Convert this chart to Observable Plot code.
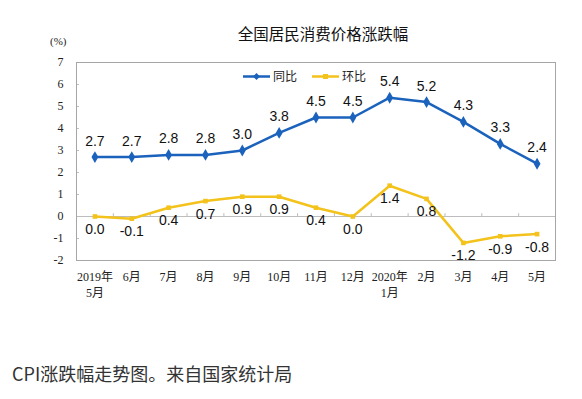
<!DOCTYPE html>
<html><head><meta charset="utf-8">
<script src="https://cdn.jsdelivr.net/npm/d3@7"></script>
<script src="https://cdn.jsdelivr.net/npm/@observablehq/plot@0.6"></script>
<style>
body{margin:0;background:#fff;}
#wrap{position:relative;width:582px;height:399px;overflow:hidden;font-family:"Noto Sans CJK SC","Noto Sans",sans-serif;}
#chart{position:absolute;left:0;top:0;}
.title{position:absolute;left:323px;top:23px;transform:translateX(-50%);font-size:15.5px;line-height:20px;color:#111;white-space:nowrap;}
.unit{position:absolute;left:50px;top:35px;font-family:"Liberation Serif","Noto Sans CJK SC",serif;font-size:11px;color:#222;}
.legend{position:absolute;top:68px;left:243px;font-size:12px;color:#222;display:flex;align-items:center;line-height:16px;}
.legend .item{display:flex;align-items:center;margin-right:15px;}
.legend svg{margin-right:3px;}
.caption{position:absolute;left:12px;top:362px;font-size:18px;line-height:22px;color:#333;white-space:nowrap;}
</style></head>
<body>
<div id="wrap">
  <div id="chart"></div>
  <div class="title">全国居民消费价格涨跌幅</div>
  <div class="unit">(%)</div>
  <div class="legend" id="legend"></div>
  <div class="caption">CPI涨跌幅走势图。来自国家统计局</div>
</div>
<script>
const months = ["2019年\n5月","6月","7月","8月","9月","10月","11月","12月","2020年\n1月","2月","3月","4月","5月"];
const yoy = [2.7,2.7,2.8,2.8,3.0,3.8,4.5,4.5,5.4,5.2,4.3,3.3,2.4];
const mom = [0.0,-0.1,0.4,0.7,0.9,0.9,0.4,0.0,1.4,0.8,-1.2,-0.9,-0.8];
const seriesNames = ["同比","环比"];
const yTicks = [-2,-1,0,1,2,3,4,5,6,7];

const blue = "#1B62BD";
const yellow = "#F3C21B";
const idx = months.map((d,i)=>i);
const bounds = idx.slice(1).map(i=>i-0.5);
const serif = "'Liberation Serif','Noto Sans CJK SC',serif";
const sans = "'Liberation Sans',Arial,sans-serif";

const chart = Plot.plot({
  width: 582, height: 320,
  marginLeft: 76, marginRight: 27, marginTop: 62, marginBottom: 60,
  x: {type:"linear", domain:[-0.5, months.length-0.5], axis:null},
  y: {domain:[-2,7], axis:null},
  marks: [
    Plot.ruleY([0], {stroke:"#bdbdbd", strokeWidth:1}),
    Plot.ruleX(bounds, {x:d=>d, y1:0, y2:0.13, stroke:"#bdbdbd"}),
    Plot.ruleY(yTicks, {y:d=>d, x1:-0.5, x2:-0.42, stroke:"#bdbdbd"}),
    Plot.frame({stroke:"#a6a6a6"}),
    Plot.axisY({ticks:yTicks, tickSize:0, tickPadding:13, tickFormat:d=>String(d), fontFamily:serif, fontSize:12, fill:"#222"}),
    Plot.text(months, {x:(d,i)=>i, text:d=>d, frameAnchor:"bottom", lineAnchor:"top", dy:10, lineHeight:1.28, fontFamily:serif, fontSize:12, fill:"#222"}),
    Plot.line(yoy, {x:(d,i)=>i, y:d=>d, stroke:blue, strokeWidth:2.5}),
    Plot.dot(yoy, {x:(d,i)=>i, y:d=>d, symbol:"diamond", fill:blue, r:3.6}),
    Plot.text(yoy, {x:(d,i)=>i, y:d=>d, text:d=>d.toFixed(1), dy:-16, fontFamily:sans, fontSize:14, fill:"#111"}),
    Plot.line(mom, {x:(d,i)=>i, y:d=>d, stroke:yellow, strokeWidth:2.5}),
    Plot.dot(mom, {x:(d,i)=>i, y:d=>d, symbol:"square", fill:yellow, r:2.6}),
    Plot.text(mom, {x:(d,i)=>i, y:d=>d, text:d=>d.toFixed(1), dy:13, fontFamily:sans, fontSize:14, fill:"#111"})
  ]
});
document.getElementById("chart").appendChild(chart);

const lg = document.getElementById("legend");
[[seriesNames[0], blue, "diamond"],[seriesNames[1], yellow, "square"]].forEach(([name,color,sym])=>{
  const item = document.createElement("div"); item.className="item";
  const marker = sym==="diamond"
    ? `<path d="M13.5 1 L17 4.5 L13.5 8 L10 4.5 Z" fill="${color}"/>`
    : `<rect x="11" y="2" width="5" height="5" fill="${color}"/>`;
  item.innerHTML = `<svg width="27" height="9"><line x1="0" x2="27" y1="4.5" y2="4.5" stroke="${color}" stroke-width="2.5"/>${marker}</svg><span>${name}</span>`;
  lg.appendChild(item);
});
</script>
</body></html>
